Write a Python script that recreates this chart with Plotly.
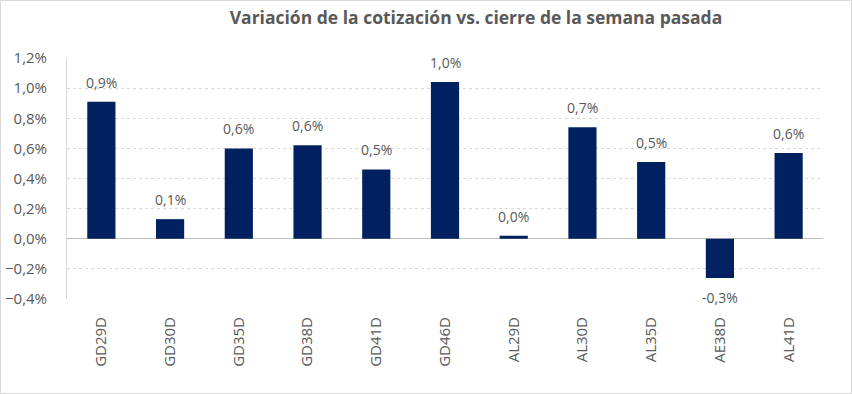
import plotly.graph_objects as go

categories = ["GD29D", "GD30D", "GD35D", "GD38D", "GD41D", "GD46D",
              "AL29D", "AL30D", "AL35D", "AE38D", "AL41D"]
values = [0.0091, 0.0013, 0.0060, 0.0062, 0.0046, 0.0104,
          0.0002, 0.0074, 0.0051, -0.0026, 0.0057]
title_text = "Variación de la cotización vs. cierre de la semana pasada"

W, H = 852, 394
ml, mr, mt, mb = 67, 29, 58, 95
pw, ph = W - ml - mr, H - mt - mb
FONT = "Open Sans, Liberation Sans"

fig = go.Figure(go.Bar(
    x=categories, y=values,
    marker=dict(color="#002060", line=dict(width=0)),
    cliponaxis=False,
))

for c, v in zip(categories, values):
    fig.add_annotation(
        x=c, y=v, text=f"{v*100:.1f}%".replace(".", ","),
        showarrow=False, xanchor="center",
        yanchor="bottom" if v >= 0 else "top",
        yshift=8 if v >= 0 else -8,
        font=dict(family=FONT, size=14, color="#595959"),
    )

fig.update_layout(
    width=W, height=H,
    margin=dict(l=ml, r=mr, t=mt, b=mb),
    separators=",.",
    paper_bgcolor="white", plot_bgcolor="white",
    bargap=0.59,
    showlegend=False,
    title=dict(text="<b>" + title_text + "</b>", x=476 / W, xref="container",
               xanchor="center", y=1 - 18 / H, yanchor="middle",
               font=dict(family=FONT, size=17.5, color="#595959")),
    font=dict(family=FONT, color="#595959"),
    yaxis=dict(range=[-0.004, 0.012], dtick=0.002, tickformat=".1%",
               showgrid=True, gridcolor="#d9d9d9", griddash="dot", gridwidth=1,
               zeroline=True, zerolinecolor="#bfbfbf", zerolinewidth=1,
               showline=True, linecolor="#d9d9d9", linewidth=1,
               tickfont=dict(size=15, color="#595959"), ticks="", ticklen=0,
               ticklabelstandoff=16, automargin=False),
    xaxis=dict(tickangle=-90, tickfont=dict(size=15, color="#595959"),
               showline=False, showgrid=False, ticks="", automargin=False,
               ticklabelstandoff=14),
    shapes=[dict(type="rect", xref="paper", yref="paper",
                 x0=(0.5 - ml) / pw, x1=(W - 0.5 - ml) / pw,
                 y0=-(mb - 0.5) / ph, y1=(H - mb - 0.5) / ph,
                 line=dict(color="#d9d9d9", width=1), layer="below")],
)

fig.write_html("out.html", config={"displayModeBar": False},
               post_script="document.body.style.margin='0';document.body.style.padding='0';")
